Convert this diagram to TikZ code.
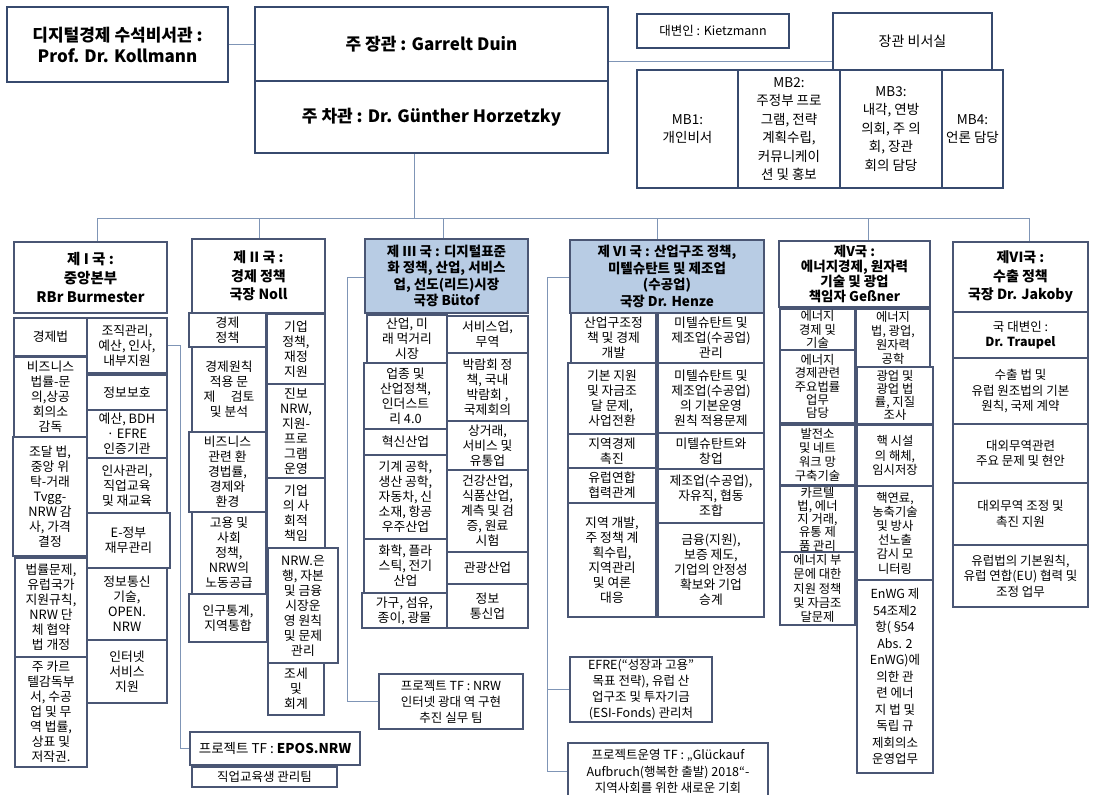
\documentclass[tikz,border=0pt]{standalone}
\usepackage{fontspec}
\setmainfont{Noto Sans CJK KR}
\usetikzlibrary{backgrounds}
\definecolor{bordc}{HTML}{4A5674}
\definecolor{topc}{HTML}{374A6E}
\definecolor{connc}{HTML}{7F95B6}
\definecolor{headc}{HTML}{B8CCE4}
\newcommand\obox[7][]{\node[box,#1,minimum width={(#5-#3)*1pt},minimum height={(#6-#4)*1pt}] (#2) at ({(#3+#5)/2},{(#4+#6)/2}) {#7};}
\begin{document}
\begin{tikzpicture}[x=1pt,y=-1pt,
 box/.style={draw=bordc,line width=1.2pt,inner sep=0.5pt,outer sep=0pt,align=center,font=\fontsize{12.8}{15}\selectfont},
 tight/.style={font=\fontsize{12.3}{13.2}\selectfont},
 mid/.style={font=\fontsize{12.3}{14.2}\selectfont},
 topbox/.style={line width=2.6pt,draw=topc},
 head/.style={line width=1.5pt,font=\bfseries\fontsize{14}{18.5}\selectfont},
 headb/.style={line width=1.5pt,fill=headc,font=\bfseries\fontsize{13.5}{16.5}\selectfont},
 conn/.style={draw=connc,line width=1pt}]
\useasboundingbox (0,0) rectangle (1098,795);

% top
\obox[topbox,font=\bfseries\fontsize{17}{21}\selectfont]{kol}{7}{7}{228}{82}{디지털경제 수석비서관 :\\Prof. Dr. Kollmann}
\obox[topbox,font=\bfseries\fontsize{17}{21}\selectfont]{min}{255}{7}{608}{81}{주 장관 : Garrelt Duin}
\obox[topbox,font=\bfseries\fontsize{17}{21}\selectfont]{vmin}{255}{81}{608}{153}{주 차관 : Dr. Günther Horzetzky}
\obox[topbox,font=\fontsize{12.5}{15}\selectfont]{spk}{637}{14}{789}{48}{대변인 : Kietzmann}
\obox[line width=1.6pt,draw=topc,font=\fontsize{14}{17}\selectfont]{sek}{833}{13}{992}{70}{장관 비서실}
\obox[topbox,font=\fontsize{13.5}{18.5}\selectfont]{mb1}{637}{70}{738}{188}{MB1:\\개인비서}
\obox[topbox,font=\fontsize{13.5}{18.5}\selectfont]{mb2}{738}{70}{840}{188}{MB2:\\주정부 프로\\그램, 전략\\계획수립,\\커뮤니케이\\션 및 홍보}
\obox[topbox,font=\fontsize{13.5}{18.5}\selectfont]{mb3}{840}{70}{942}{188}{MB3:\\내각, 연방\\의회, 주 의\\회, 장관\\회의 담당}
\obox[topbox,font=\fontsize{13.5}{18.5}\selectfont]{mb4}{942}{70}{1003}{188}{MB4:\\언론 담당}

% column I
\obox[head,font=\bfseries\fontsize{14.5}{19}\selectfont]{h1}{14}{242}{167}{313}{제 I 국 :\\중앙본부\\RBr Burmester}
\obox{a1}{14}{318}{87}{356}{경제법}
\obox{a2}{14}{357}{87}{437}{비즈니스\\법률-문\\의,상공\\회의소\\감독}
\obox{a3}{13}{437}{87}{556}{조달 법,\\중앙 위\\탁-거래\\Tvgg-\\NRW 감\\사, 가격\\결정}
\obox{a4}{15}{558}{87}{657}{법률문제,\\유럽국가\\지원규칙,\\NRW 단\\체 협약\\법 개정}
\obox{a5}{15}{657}{87}{767}{주 카르\\텔감독부\\서, 수공\\업 및 무\\역 법률,\\상표 및\\저작권.}
\obox{b1}{87}{318}{167}{373}{조직관리,\\예산, 인사,\\내부지원}
\obox{b2}{87}{375}{167}{410}{정보보호}
\obox{b3}{87}{410}{167}{458}{예산, BDH\\· EFRE\\인증기관}
\obox{b4}{87}{458}{167}{513}{인사관리,\\직업교육\\및 재교육}
\obox{b5}{87}{513}{170}{568}{E-정부\\재무관리}
\obox{b6}{87}{568}{167}{640}{정보통신\\기술,\\OPEN.\\NRW}
\obox{b7}{87}{640}{167}{703}{인터넷\\서비스\\지원}
\obox[font=\fontsize{13.5}{16}\selectfont]{epos}{190}{732}{360}{765}{프로젝트 TF : \textbf{EPOS.NRW}}
\obox[font=\fontsize{12.5}{15}\selectfont]{job}{192}{767}{337}{787}{직업교육생 관리팀}

% column II
\obox[head]{h2}{192}{239}{325}{313}{제 II 국 :\\경제 정책\\국장 Noll}
\obox{d1}{189}{313}{266}{347}{경제\\정책}
\obox{d2}{192}{347}{266}{432}{경제원칙\\적용 문\\제 \quad 검토\\및 분석}
\obox{d3}{189}{432}{266}{512}{비즈니스\\관련 환\\경법률,\\경제와\\환경}
\obox{d4}{192}{512}{266}{594}{고용 및\\사회\\정책,\\NRW의\\노동공급}
\obox{d5}{189}{594}{267}{642}{인구통계,\\지역통합}
\obox{e1}{267}{314}{325}{384}{기업\\정책,\\재정\\지원}
\obox{e2}{267}{384}{325}{478}{진보\\NRW,\\지원-\\프로\\그램\\운영}
\obox{e3}{267}{478}{325}{548}{기업\\의 사\\회적\\책임}
\obox{e4}{268}{548}{338}{663}{NRW.은\\행, 자본\\및 금융\\시장운\\영 원칙\\및 문제\\관리}
\obox{e5}{268}{663}{324}{715}{조세\\및\\회계}
\obox[font=\fontsize{12.5}{16}\selectfont]{tfn}{379}{674}{523}{729}{프로젝트 TF : NRW\\인터넷 광대 역 구현\\추진 실무 팀}

% column III
\obox[headb]{h3}{365}{239}{528}{313}{제 III 국 : 디지털표준\\화 정책, 산업, 서비스\\업, 선도(리드)시장\\국장 Bütof}
\obox{f1}{367}{315}{447}{363}{산업, 미\\래 먹거리\\시장}
\obox{f2}{364}{363}{447}{429}{업종 및\\산업정책,\\인더스트\\리 4.0}
\obox{f3}{364}{429}{447}{455}{혁신산업}
\obox{f4}{364}{455}{447}{539}{기계 공학,\\생산 공학,\\자동차, 신\\소재, 항공\\우주산업}
\obox{f5}{364}{539}{447}{593}{화학, 플라\\스틱, 전기\\산업}
\obox{f6}{362}{593}{447}{628}{가구, 섬유,\\종이, 광물}
\obox{g1}{447}{316}{528}{353}{서비스업,\\무역}
\obox{g2}{447}{353}{528}{421}{박람회 정\\책, 국내\\박람회 ,\\국제회의}
\obox{g3}{447}{421}{528}{470}{상거래,\\서비스 및\\유통업}
\obox{g4}{447}{470}{528}{552}{건강산업,\\식품산업,\\계측 및 검\\증, 원료\\시험}
\obox{g5}{447}{552}{528}{584}{관광산업}
\obox{g6}{447}{584}{528}{628}{정보\\통신업}

% column VI (Henze)
\obox[headb]{h4}{570}{240}{764}{313}{제 VI 국 : 산업구조 정책,\\미텔슈탄트 및 제조업\\(수공업)\\국장 Dr. Henze}
\obox{i1}{571}{313}{656}{363}{산업구조정\\책 및 경제\\개발}
\obox{i2}{568}{363}{656}{434}{기본 지원\\및 자금조\\달 문제,\\사업전환}
\obox{i3}{568}{434}{656}{468}{지역경제\\촉진}
\obox{i4}{568}{468}{656}{503}{유럽연합\\협력관계}
\obox{i5}{568}{503}{656}{617}{지역 개발,\\주 정책 계\\획수립,\\지역관리\\및 여론\\대응}
\obox{j1}{658}{313}{764}{363}{미텔슈탄트 및\\제조업(수공업)\\관리}
\obox{j2}{658}{363}{764}{433}{미텔슈탄트 및\\제조업(수공업)\\의 기본운영\\원칙 적용문제}
\obox{j3}{658}{433}{764}{469}{미텔슈탄트와\\창업}
\obox{j4}{658}{469}{764}{523}{제조업(수공업),\\자유직, 협동\\조합}
\obox{j5}{658}{523}{764}{617}{금융(지원),\\보증 제도,\\기업의 안정성\\확보와 기업\\승계}
\obox[font=\fontsize{12.5}{16}\selectfont]{efre}{570}{657}{712}{722}{EFRE(“성장과 고용”\\목표 전략), 유럽 산\\업구조 및 투자기금\\(ESI-Fonds) 관리처}
\obox[font=\fontsize{12.5}{16.5}\selectfont]{glu}{568}{743}{768}{800}{프로젝트운영 TF : „Glückauf\\Aufbruch(행복한 출발) 2018“-\\지역사회를 위한 새로운 기회}

% column V
\obox[head,font=\bfseries\fontsize{13.5}{15}\selectfont]{h5}{779}{241}{930}{307}{제V국 :\\에너지경제, 원자력\\기술 및 광업\\책임자 Geßner}
\obox[tight]{k1}{780}{309}{855}{350}{에너지\\경제 및\\기술}
\obox[tight]{k2}{780}{350}{855}{423}{에너지\\경제관련\\주요법률\\업무\\담당}
\obox[mid]{k3}{780}{425}{855}{485}{발전소\\및 네트\\워크 망\\구축기술}
\obox[tight]{k4}{780}{486}{855}{552}{카르텔\\법, 에너\\지 거래,\\유통 제\\품 관리}
\obox[mid]{k5}{780}{552}{855}{625}{에너지 부\\문에 대한\\지원 정책\\및 자금조\\달문제}
\obox[mid]{l1}{856}{309}{930}{367}{에너지\\법, 광업,\\원자력\\공학}
\obox[tight]{l2}{857}{367}{933}{424}{광업 및\\광업 법\\률, 지질\\조사}
\obox[mid]{l3}{857}{425}{933}{486}{핵 시설\\의 해체,\\임시저장}
\obox[mid]{l4}{857}{486}{933}{580}{핵연료,\\농축기술\\및 방사\\선노출\\감시 모\\니터링}
\obox[font=\fontsize{12.5}{16.5}\selectfont]{l5}{857}{580}{933}{773}{EnWG 제\\54조제2\\항(§\kern-3pt54\\Abs. 2\\EnWG)에\\의한 관\\련 에너\\지 법 및\\독립 규\\제회의소\\운영업무}

% column VI (Jakoby)
\obox[head]{h6}{953}{242}{1088}{312}{제VI국 :\\수출 정책\\국장 Dr. Jakoby}
\obox[line width=1.5pt,font=\fontsize{12.5}{15.5}\selectfont]{m1}{953}{312}{1088}{358}{국 대변인 :\\\textbf{Dr. Traupel}}
\obox[line width=1.5pt,font=\fontsize{12.5}{15.5}\selectfont]{m2}{953}{358}{1088}{424}{수출 법 및\\유럽 원조법의 기본\\원칙, 국제 계약}
\obox[line width=1.5pt,font=\fontsize{12.5}{15.5}\selectfont]{m3}{953}{424}{1088}{483}{대외무역관련\\주요 문제 및 현안}
\obox[line width=1.5pt,font=\fontsize{12.5}{15.5}\selectfont]{m4}{953}{483}{1088}{545}{대외무역 조정 및\\촉진 지원}
\obox[line width=1.5pt,font=\fontsize{12.5}{15.5}\selectfont]{m5}{953}{545}{1088}{607}{유럽법의 기본원칙,\\유럽 연합(EU) 협력 및\\조정 업무}

% connectors
\begin{scope}[on background layer]
\fill[white] (0,0) rectangle (1098,795);
\draw[conn] (kol.east) -- (kol.east -| min.west);
\coordinate (t1) at (608,61);
\draw[conn] (t1) -- (t1 -| sek.west);
\coordinate (bus) at (414,218);
\draw[conn] (bus |- vmin.south) -- (bus);
\coordinate (busL) at (97,218);
\coordinate (busR) at (1029,218);
\draw[conn] (busL) -- (busR);
\draw[conn] (busL) -- (busL |- h1.north);
\coordinate (dr2) at (259,218);
\draw[conn] (dr2) -- (dr2 |- h2.north);
\coordinate (dr3) at (443,218);
\draw[conn] (dr3) -- (dr3 |- h3.north);
\coordinate (dr4) at (657,218);
\draw[conn] (dr4) -- (dr4 |- h4.north);
\coordinate (dr5) at (868,218);
\draw[conn] (dr5) -- (dr5 |- h5.north);
\draw[conn] (busR) -- (busR |- h6.north);
\coordinate (v1) at (180,345);
\draw[conn] (b1.east |- v1) -- (v1) -- (v1 |- epos.west) -- (epos.west);
\coordinate (v2) at (347,277);
\draw[conn] (h3.west |- v2) -- (v2) -- (v2 |- tfn.west) -- (tfn.west);
\coordinate (v3) at (547,277);
\draw[conn] (h4.west |- v3) -- (v3) -- (v3 |- glu.west) -- (glu.west);
\draw[conn] (v3 |- efre.west) -- (efre.west);
\end{scope}
\end{tikzpicture}
\end{document}
